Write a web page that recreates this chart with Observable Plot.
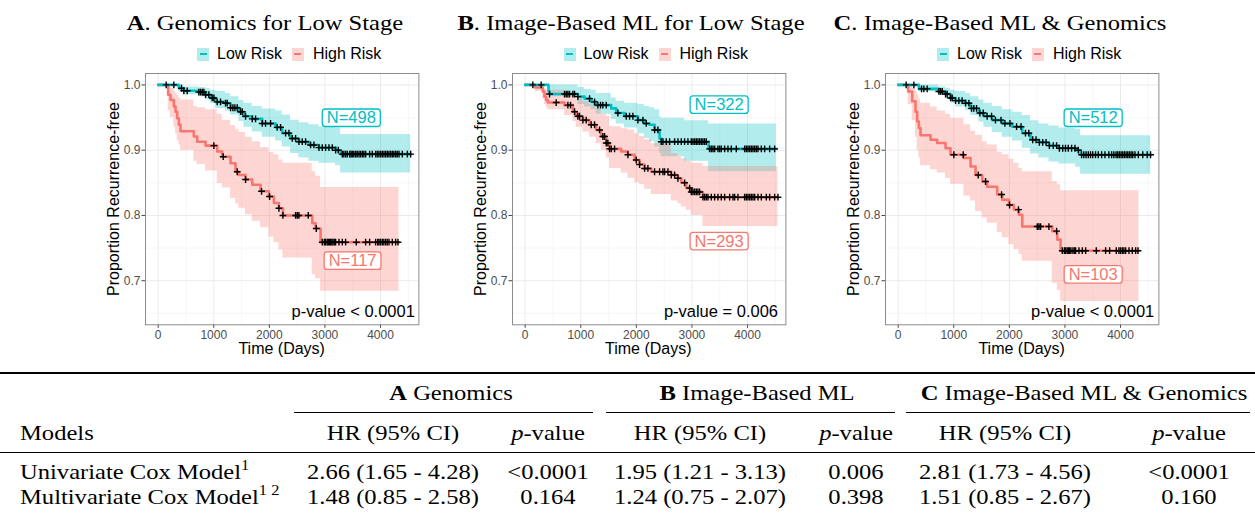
<!DOCTYPE html>
<html>
<head>
<meta charset="utf-8">
<script src="https://cdn.jsdelivr.net/npm/d3@7"></script>
<script src="https://cdn.jsdelivr.net/npm/@observablehq/plot@0.6"></script>
<style>
  html, body { margin: 0; padding: 0; background: #fff; }
  #root { position: relative; width: 1255px; height: 517px; overflow: hidden; font-family: "Liberation Sans", Arial, sans-serif; }
  .abs { position: absolute; white-space: nowrap; line-height: 1; }
  .serif { font-family: "Liberation Serif", "Times New Roman", serif; font-size: 21px; color: #000; }
  .ctr { transform: translate(-50%, -50%) scaleX(1.17); }
  .lft { transform: translate(0, -50%) scaleX(1.17); transform-origin: left center; }
  .sans-ctr { transform: translate(-50%, -50%); }
  .rule { position: absolute; background: #000; }
  .legend { position: absolute; display: flex; align-items: center; font-size: 16px; color: #000; transform: translateY(-50%); line-height: 1; }
  .key { width: 12px; height: 13px; position: relative; }
  .key i { position: absolute; left: 2.5px; right: 2.5px; top: 5.3px; height: 2.4px; }
  sup { font-size: 14px; line-height: 0; position: relative; top: -1px; }
</style>
</head>
<body>
<div id="root"></div>
<script>
// ---------------- data ----------------
const panelTitlesLetter = ["A", "B", "C"];
const panelTitlesText = [". Genomics for Low Stage", ". Image-Based ML for Low Stage", ". Image-Based ML & Genomics"];
const seriesNames = ["Low Risk", "High Risk"];
const xTicks = [0, 1000, 2000, 3000, 4000];
const yTicks = [0.7, 0.8, 0.9, 1.0];
const xMinorTicks = [500, 1500, 2500, 3500, 4500];
const yMinorTicks = [0.65, 0.75, 0.85, 0.95];

// Panel A
const A_lowT  = [0,372,462,732,852,942,1032,1212,1302,1452,1542,1692,1872,2112,2232,2382,2532,2712,2892,3192,3282,4542];
const A_lowS  = [1,.995,.991,.989,.985,.980,.974,.972,.965,.959,.952,.948,.941,.935,.926,.918,.913,.908,.904,.900,.894,.894];
const A_lowHi = [1,1,.997,.996,.994,.992,.990,.987,.982,.976,.972,.967,.963,.960,.954,.946,.942,.939,.936,.934,.924,.924];
const A_lowLo = [1,.99,.985,.982,.977,.972,.964,.960,.954,.944,.935,.928,.920,.914,.905,.895,.888,.883,.880,.876,.865,.865];
const A_lowCens = [144,282,420,462,522,732,762,792,822,852,912,972,1002,1062,1122,1212,1242,1302,1344,1380,1422,1482,1512,1572,1692,1752,1872,1932,2022,2142,2202,2292,2352,2412,2472,2532,2592,2652,2742,2802,2892,2952,3012,3072,3132,3192,3240,3312,3340,3372,3402,3444,3470,3492,3520,3552,3580,3612,3640,3672,3700,3732,3804,3852,3912,3942,3972,4002,4032,4062,4092,4122,4152,4182,4212,4240,4272,4300,4332,4392,4482,4542];
const A_highT  = [0,180,222,282,312,342,372,402,642,702,852,1062,1152,1302,1392,1452,1572,1692,1842,1992,2082,2172,2244,2772,2832,2922,4332];
const A_highS  = [1,.985,.977,.967,.959,.949,.939,.929,.921,.913,.907,.898,.890,.880,.867,.862,.855,.847,.837,.829,.819,.811,.800,.788,.780,.759,.759];
const A_highHi = [1,1,.995,.99,.987,.984,.98,.977,.967,.965,.962,.955,.946,.938,.932,.927,.92,.913,.904,.897,.893,.885,.88,.867,.86,.843,.843];
const A_highLo = [1,.96,.95,.935,.925,.915,.908,.9,.883,.878,.868,.849,.842,.826,.818,.811,.801,.791,.781,.767,.758,.747,.735,.709,.703,.684,.684];
const A_highCens = [1002,1170,1422,1572,1860,2004,2172,2244,2472,2502,2532,2700,2844,2952,2990,3012,3040,3060,3085,3102,3125,3144,3170,3192,3252,3312,3372,3564,3732,3804,3912,3950,3972,4000,4032,4060,4092,4120,4152,4212,4272,4314];

// Panel B
const B_lowT  = [0,420,438,948,1068,1188,1278,1548,1638,1788,2028,2148,2238,2328,2418,2448,2868,3300,4518];
const B_lowS  = [1,.99,.986,.982,.979,.974,.969,.964,.957,.952,.946,.941,.939,.931,.918,.913,.913,.902,.902];
const B_lowHi = [1,1,1,.996,.993,.992,.987,.98,.975,.972,.97,.967,.965,.962,.951,.949,.945,.940,.940];
const B_lowLo = [1,.985,.982,.97,.966,.962,.955,.947,.94,.934,.925,.918,.913,.905,.895,.89,.883,.867,.867];
const B_lowCens = [138,288,438,708,738,768,798,858,888,948,1158,1248,1308,1356,1398,1458,1668,1818,1878,1938,2028,2118,2178,2328,2388,2448,2478,2538,2598,2688,2748,2808,2868,2928,2988,3018,3048,3078,3108,3138,3168,3198,3228,3258,3318,3348,3378,3408,3468,3498,3528,3588,3648,3708,3798,3948,3978,4008,4038,4068,4098,4128,4158,4188,4248,4308,4398,4488];
const B_highT  = [0,180,318,348,378,408,708,858,918,1038,1158,1278,1368,1458,1518,1728,1848,1968,2058,2148,2268,2628,2748,2808,2898,2988,3198,4548];
const B_highS  = [1,.996,.99,.982,.977,.973,.969,.959,.952,.946,.939,.931,.921,.911,.902,.898,.893,.885,.878,.872,.867,.862,.857,.850,.842,.836,.828,.828];
const B_highHi = [1,1,.995,.994,.993,.992,.985,.98,.978,.975,.97,.963,.955,.952,.936,.933,.931,.925,.921,.916,.91,.895,.89,.887,.883,.88,.875,.875];
const B_highLo = [1,.99,.978,.97,.965,.962,.953,.944,.935,.928,.92,.91,.9,.888,.872,.865,.857,.85,.847,.84,.832,.822,.818,.813,.808,.8,.783,.783];
const B_highCens = [558,768,816,888,948,978,1038,1098,1188,1248,1338,1398,1428,1458,1488,1518,1548,1608,1848,1998,2058,2148,2208,2328,2418,2478,2508,2568,2628,2688,2748,2868,2958,2988,3018,3048,3078,3108,3138,3198,3228,3258,3288,3348,3408,3468,3528,3588,3678,3738,3768,3828,3948,3978,4008,4038,4068,4098,4128,4188,4248,4338,4398,4488,4548];

// Panel C
const C_lowT  = [0,372,732,852,942,1032,1212,1302,1452,1542,1692,1872,2052,2232,2382,2532,2712,2892,3192,3282,4542];
const C_lowS  = [1,.994,.990,.986,.980,.976,.972,.964,.957,.952,.946,.941,.936,.926,.916,.912,.907,.903,.900,.893,.893];
const C_lowHi = [1,1,.997,.995,.992,.99,.987,.982,.977,.972,.967,.962,.958,.953,.945,.94,.937,.934,.932,.922,.922];
const C_lowLo = [1,.99,.984,.979,.972,.966,.961,.953,.943,.935,.927,.92,.914,.903,.894,.888,.882,.879,.874,.863,.863];
const C_lowCens = [144,282,420,462,522,732,762,792,852,882,942,972,1032,1092,1150,1212,1272,1320,1360,1410,1470,1530,1600,1680,1750,1850,1920,2010,2130,2210,2290,2350,2420,2480,2540,2600,2660,2720,2790,2850,2900,2960,3010,3060,3120,3180,3240,3300,3340,3380,3420,3460,3500,3550,3600,3660,3720,3790,3840,3880,3920,3950,3980,4010,4040,4070,4100,4130,4160,4190,4220,4260,4320,4400,4480,4540];
const C_highT  = [0,180,252,312,342,372,402,582,702,852,942,1182,1302,1392,1512,1602,1782,1872,1992,2082,2172,2232,2772,2862,2922,4332];
const C_highS  = [1,.99,.975,.959,.944,.934,.923,.916,.911,.903,.893,.888,.875,.862,.852,.844,.832,.824,.816,.809,.801,.783,.776,.763,.746,.746];
const C_highHi = [1,1,.995,.99,.985,.978,.972,.966,.96,.955,.949,.939,.929,.923,.913,.908,.897,.893,.886,.88,.872,.867,.852,.847,.838,.838];
const C_highLo = [1,.97,.945,.92,.9,.888,.876,.87,.865,.857,.848,.83,.822,.806,.796,.788,.774,.766,.755,.748,.74,.73,.696,.685,.668,.668];
const C_highCens = [1002,1170,1440,1572,1860,2004,2164,2502,2532,2562,2712,2850,2952,2990,3012,3040,3060,3085,3108,3144,3170,3192,3252,3312,3372,3564,3732,3804,3924,3972,4000,4032,4060,4092,4152,4212,4272,4314];

// annotations (data coordinates)
const nLowLabels  = ["N=498", "N=322", "N=512"];
const nHighLabels = ["N=117", "N=293", "N=103"];
const pValueLabels = ["p-value < 0.0001", "p-value = 0.006", "p-value < 0.0001"];

// table
const tableGroupLetters = ["A", "B", "C"];
const tableGroupNames = ["Genomics", "Image-Based ML", "Image-Based ML & Genomics"];
const tableModels = ["Univariate Cox Model", "Multivariate Cox Model"];
const tableModelSup = ["1", "1 2"];
const hrA = ["2.66 (1.65 - 4.28)", "1.48 (0.85 - 2.58)"];
const pA  = ["<0.0001", "0.164"];
const hrB = ["1.95 (1.21 - 3.13)", "1.24 (0.75 - 2.07)"];
const pB  = ["0.006", "0.398"];
const hrC = ["2.81 (1.73 - 4.56)", "1.51 (0.85 - 2.67)"];
const pC  = ["<0.0001", "0.160"];

// ---------------- helpers ----------------
const TEAL = "#00BFC4", RED = "#F8766D";
const root = document.getElementById("root");
function rows(T, S, LO, HI) { return T.map((t, i) => ({t, s: S[i], lo: LO[i], hi: HI[i]})); }
function survAt(T, S, t) { let v = S[0]; for (let i = 0; i < T.length; i++) { if (T[i] <= t) v = S[i]; else break; } return v; }
function cens(C, T, S) { return C.map(t => ({t, s: survAt(T, S, t)})); }
function el(tag, cls, html, style) {
  const e = document.createElement(tag);
  if (cls) e.className = cls;
  if (html != null) e.innerHTML = html;
  Object.assign(e.style, style || {});
  root.appendChild(e);
  return e;
}
// stroke-only plus sign for censor marks
const plusSymbol = {
  draw(context, size) {
    const r = Math.sqrt(size / Math.PI);
    context.moveTo(-r, 0); context.lineTo(r, 0);
    context.moveTo(0, -r); context.lineTo(0, r);
  }
};

const panels = [
  {low: rows(A_lowT, A_lowS, A_lowLo, A_lowHi), high: rows(A_highT, A_highS, A_highLo, A_highHi),
   lowC: cens(A_lowCens, A_lowT, A_lowS), highC: cens(A_highCens, A_highT, A_highS),
   nLow: {t: 3474, s: .949}, nHigh: {t: 3497, s: .730}, pv: {t: 4617, s: .653},
   left: 105, titleX: 265},
  {low: rows(B_lowT, B_lowS, B_lowLo, B_lowHi), high: rows(B_highT, B_highS, B_highLo, B_highHi),
   lowC: cens(B_lowCens, B_lowT, B_lowS), highC: cens(B_highCens, B_highT, B_highS),
   nLow: {t: 3489, s: .969}, nHigh: {t: 3489, s: .760}, pv: {t: 4548, s: .653},
   left: 471.6, titleX: 631},
  {low: rows(C_lowT, C_lowS, C_lowLo, C_lowHi), high: rows(C_highT, C_highS, C_highLo, C_highHi),
   lowC: cens(C_lowCens, C_lowT, C_lowS), highC: cens(C_highCens, C_highT, C_highS),
   nLow: {t: 3508, s: .949}, nHigh: {t: 3508, s: .709}, pv: {t: 4607, s: .653},
   left: 845, titleX: 1000}
];

const ML = 40, MR = 10, MT = 10, MB = 25, FW = 273.4, FH = 251.3;
const TOP = 63;

panels.forEach((p, i) => {
  const svg = Plot.plot({
    width: ML + FW + MR, height: MT + FH + MB,
    marginLeft: ML, marginRight: MR, marginTop: MT, marginBottom: MB,
    style: {fontFamily: '"Liberation Sans", Arial, sans-serif', fontSize: "12px", background: "transparent", overflow: "visible"},
    x: {domain: [-228, 4690]},
    y: {domain: [0.6325, 1.0175]},
    marks: [
      Plot.gridX(xMinorTicks, {stroke: "#f4f4f4", strokeOpacity: 1, strokeWidth: 0.7}),
      Plot.gridY(yMinorTicks, {stroke: "#f4f4f4", strokeOpacity: 1, strokeWidth: 0.7}),
      Plot.gridX(xTicks, {stroke: "#ebebeb", strokeOpacity: 1, strokeWidth: 1}),
      Plot.gridY(yTicks, {stroke: "#ebebeb", strokeOpacity: 1, strokeWidth: 1}),
      Plot.areaY(p.low, {x: "t", y1: "lo", y2: "hi", curve: "step-after", fill: TEAL, fillOpacity: 0.3}),
      Plot.areaY(p.high, {x: "t", y1: "lo", y2: "hi", curve: "step-after", fill: RED, fillOpacity: 0.3}),
      Plot.line(p.high, {x: "t", y: "s", curve: "step-after", stroke: RED, strokeWidth: 2.6}),
      Plot.line(p.low, {x: "t", y: "s", curve: "step-after", stroke: TEAL, strokeWidth: 2.6}),
      Plot.dot(p.highC, {x: "t", y: "s", symbol: plusSymbol, r: 3.4, fill: "none", stroke: "black", strokeWidth: 1.4}),
      Plot.dot(p.lowC, {x: "t", y: "s", symbol: plusSymbol, r: 3.4, fill: "none", stroke: "black", strokeWidth: 1.4}),
      Plot.text([p.nLow], {x: "t", y: "s", text: () => nLowLabels[i], fill: TEAL, fontSize: 16.5, textAnchor: "middle", lineAnchor: "middle"}),
      Plot.text([p.nHigh], {x: "t", y: "s", text: () => nHighLabels[i], fill: RED, fontSize: 16.5, textAnchor: "middle", lineAnchor: "middle"}),
      Plot.text([p.pv], {x: "t", y: "s", text: () => pValueLabels[i], fill: "black", fontSize: 16.5, textAnchor: "end", lineAnchor: "middle"}),
      Plot.axisX(xTicks, {tickSize: 3.5, tickPadding: 2.5, stroke: "#444", fill: "#4d4d4d", label: null, fontSize: 12, tickFormat: d => String(d)}),
      Plot.axisY(yTicks, {tickSize: 3.5, tickPadding: 1.5, stroke: "#444", fill: "#4d4d4d", label: null, fontSize: 12, tickFormat: d => d.toFixed(1)}),
      Plot.frame({stroke: "#8c8c8c", strokeWidth: 1})
    ]
  });
  svg.style.position = "absolute";
  svg.style.left = p.left + "px";
  svg.style.top = TOP + "px";
  root.appendChild(svg);
  // label boxes (geom_label look) around the N= texts
  Array.from(svg.querySelectorAll("text")).filter(t => t.textContent.startsWith("N=")).forEach(t => {
    const b = t.getBBox();
    const r = document.createElementNS("http://www.w3.org/2000/svg", "rect");
    r.setAttribute("x", b.x - 4.5); r.setAttribute("y", b.y + 0.5);
    r.setAttribute("width", b.width + 9); r.setAttribute("height", b.height - 0.5);
    r.setAttribute("rx", 3); r.setAttribute("fill", "white");
    r.setAttribute("stroke", getComputedStyle(t).fill); r.setAttribute("stroke-width", 1.3);
    if (t.getAttribute("transform")) r.setAttribute("transform", t.getAttribute("transform"));
    t.parentNode.insertBefore(r, t);
  });

  const frameL = p.left + ML, frameCx = frameL + FW / 2, frameCy = TOP + MT + FH / 2;
  // title
  el("div", "abs serif ctr", `<b>${panelTitlesLetter[i]}</b>${panelTitlesText[i].replace("&", "&amp;")}`, {left: p.titleX + "px", top: "23px"});
  // legend
  const lg = el("div", "legend", null, {left: (frameL + 52) + "px", top: "54px"});
  lg.innerHTML =
    `<span class="key" style="background:rgba(0,191,196,0.3)"><i style="background:${TEAL}"></i></span>` +
    `<span style="margin-left:8px">${seriesNames[0]}</span>` +
    `<span class="key" style="margin-left:10px;background:rgba(248,118,109,0.3)"><i style="background:${RED}"></i></span>` +
    `<span style="margin-left:9px">${seriesNames[1]}</span>`;
  // axis titles
  el("div", "abs sans-ctr", "Time (Days)", {left: frameCx + "px", top: "349px", fontSize: "16px"});
  el("div", "abs", "Proportion Recurrence-free", {left: (p.left + 9) + "px", top: frameCy + "px", fontSize: "16px", transform: "translate(-50%, -50%) rotate(-90deg)"});
});

// ---------------- table ----------------
function rule(x1, x2, y, h) { el("div", "rule", null, {left: x1 + "px", width: (x2 - x1) + "px", top: y + "px", height: h + "px"}); }
rule(0, 1255, 371.5, 2);
const groupRules = [[294, 593], [606, 895], [906, 1250]];
const groupCenters = [451, 757, 1084];
const hrCenters = [393, 700, 1005];
const pCenters = [548, 856, 1189];
groupRules.forEach(([a, b]) => rule(a, b, 412.2, 1));
rule(0, 1255, 451.7, 1.2);

tableGroupLetters.forEach((g, i) => {
  el("div", "abs serif ctr", `<b>${g}</b> ${tableGroupNames[i].replace("&", "&amp;")}`, {left: groupCenters[i] + "px", top: "393px"});
  el("div", "abs serif ctr", "HR (95% CI)", {left: hrCenters[i] + "px", top: "433px"});
  el("div", "abs serif ctr", "<i>p</i>-value", {left: pCenters[i] + "px", top: "433px"});
});
el("div", "abs serif lft", "Models", {left: "20px", top: "433px"});

const rowY = [471.5, 497];
const hrCols = [hrA, hrB, hrC], pCols = [pA, pB, pC];
tableModels.forEach((m, r) => {
  el("div", "abs serif lft", `${m}<sup>${tableModelSup[r]}</sup>`, {left: "20px", top: rowY[r] + "px"});
  hrCols.forEach((col, i) => {
    el("div", "abs serif ctr", col[r], {left: hrCenters[i] + "px", top: rowY[r] + "px"});
    el("div", "abs serif ctr", pCols[i][r].replace("<", "&lt;"), {left: pCenters[i] + "px", top: rowY[r] + "px"});
  });
});
</script>
</body>
</html>
